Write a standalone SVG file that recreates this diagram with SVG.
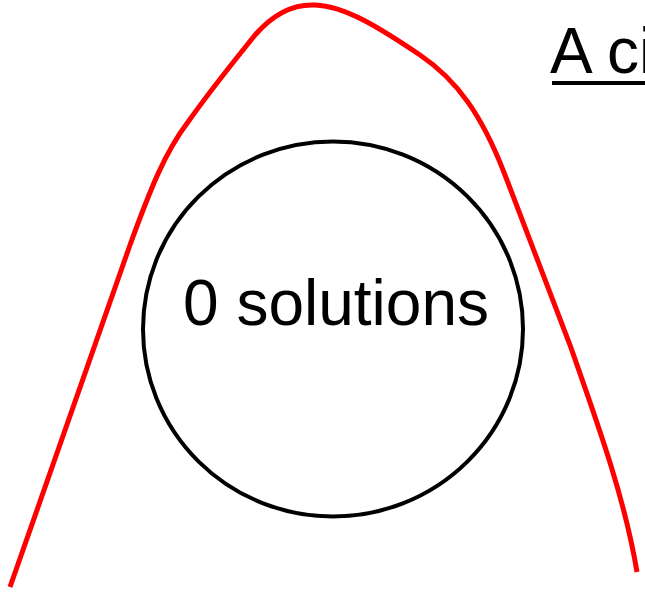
<svg xmlns="http://www.w3.org/2000/svg" width="645" height="598" viewBox="0 0 645 598">
<style>
.lbl{font-family:"Liberation Sans",Arial,sans-serif;font-size:64px;fill:#000}
</style>
<rect width="645" height="598" fill="#fff"/>
<g id="curve">
<path d="M10,587 L130,245 C150,190 165,152 188,122 C212,88 235,60 255,35 C275,12 295,4 315,5 C345,6 380,28 420,55 C457,80 482,115 505,175 L570,345 C600,430 625,500 637,572" fill="none" stroke="#ff0000" stroke-width="5"/>
</g>
<g id="circle">
<ellipse cx="333" cy="329" rx="190" ry="187.5" fill="none" stroke="#000" stroke-width="4"/>
<text class="lbl" x="336" y="325" text-anchor="middle">0 solutions</text>
</g>
<g id="title">
<text class="lbl" x="550" y="73">A ci</text>
<line x1="552" y1="83" x2="645" y2="83" stroke="#000" stroke-width="4"/>
</g>
</svg>
